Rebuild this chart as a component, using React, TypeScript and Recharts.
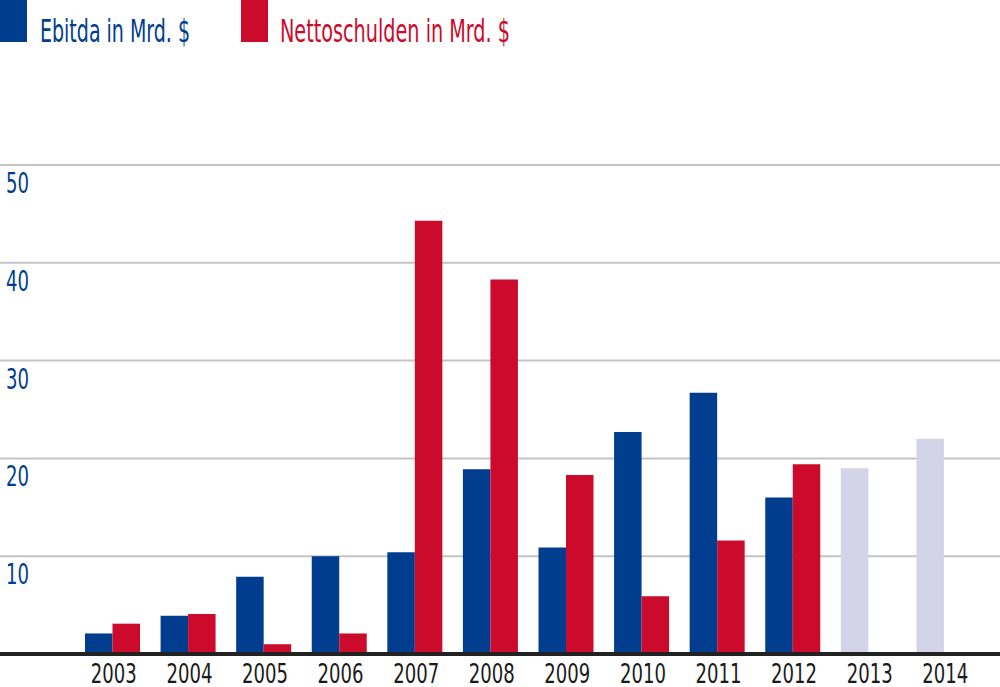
import React from 'react';
import { BarChart, Bar, XAxis, YAxis, CartesianGrid, Cell } from 'recharts';

const years = ['2003', '2004', '2005', '2006', '2007', '2008', '2009', '2010', '2011', '2012', '2013', '2014'];
const ebitda = [2.1, 3.9, 7.9, 10.0, 10.4, 18.9, 10.9, 22.7, 26.7, 16.0, 19.0, 22.0];
const netDebt: (number | null)[] = [3.1, 4.1, 1.0, 2.1, 44.3, 38.3, 18.3, 5.9, 11.6, 19.4, null, null];
const forecastYears = ['2013', '2014'];
const yTicks = [0, 10, 20, 30, 40, 50];

const BLUE = '#003d8f';
const RED = '#cc0a2b';
const LIGHT = '#d3d4e8';
const FONT = '"Liberation Sans Narrow", "DejaVu Sans Condensed", "Roboto", sans-serif';

const data = years.map((y, i) => ({ year: y, ebitda: ebitda[i], netDebt: netDebt[i] }));

const YTick = (props: any) => {
  const { y, payload } = props;
  if (payload.value === 0) return null;
  return (
    <text x={6} y={y + 28} fill={BLUE} fontSize={28} fontFamily={FONT} textLength={23} lengthAdjust="spacingAndGlyphs">
      {payload.value}
    </text>
  );
};

const XTick = (props: any) => {
  const { x, y, payload } = props;
  return (
    <text x={x + 1} y={y + 21} fill="#1a1a1a" fontSize={26} fontFamily={FONT} textAnchor="middle" textLength={46} lengthAdjust="spacingAndGlyphs">
      {payload.value}
    </text>
  );
};

const Legend = () => (
  <svg width={1000} height={60} style={{ position: 'absolute', left: 0, top: 0 }}>
    <rect x={0} y={0} width={27} height={42} fill={BLUE} />
    <text x={40} y={42} fill={BLUE} fontSize={32} fontFamily={FONT} textLength={150} lengthAdjust="spacingAndGlyphs">
      Ebitda in Mrd. $
    </text>
    <rect x={241} y={0} width={27} height={42} fill={RED} />
    <text x={280} y={42} fill={RED} fontSize={32} fontFamily={FONT} textLength={230} lengthAdjust="spacingAndGlyphs">
      Nettoschulden in Mrd. $
    </text>
  </svg>
);

export default function App() {
  return (
    <div style={{ position: 'absolute', left: 0, top: 0, width: 1000, height: 687, background: '#fff' }}>
      <BarChart
        width={1000}
        height={687}
        data={data}
        margin={{ top: 165, right: 0, bottom: 0, left: 0 }}
        barGap={0}
        barSize={27.5}
      >
        <CartesianGrid vertical={false} stroke="#c4c4c4" strokeWidth={2} />
        <XAxis
          dataKey="year"
          height={33}
          padding={{ left: 75, right: 18 }}
          axisLine={{ stroke: '#222', strokeWidth: 4 }}
          tickLine={false}
          tick={<XTick />}
          interval={0}
        />
        <YAxis
          domain={[0, 50]}
          ticks={yTicks}
          width={2}
          mirror
          axisLine={false}
          tickLine={false}
          tick={<YTick />}
        />
        <Bar dataKey="ebitda" fill={BLUE} isAnimationActive={false}>
          {data.map((d) => (
            <Cell key={d.year} fill={forecastYears.includes(d.year) ? LIGHT : BLUE} />
          ))}
        </Bar>
        <Bar dataKey="netDebt" fill={RED} isAnimationActive={false} />
      </BarChart>
      <Legend />
    </div>
  );
}
